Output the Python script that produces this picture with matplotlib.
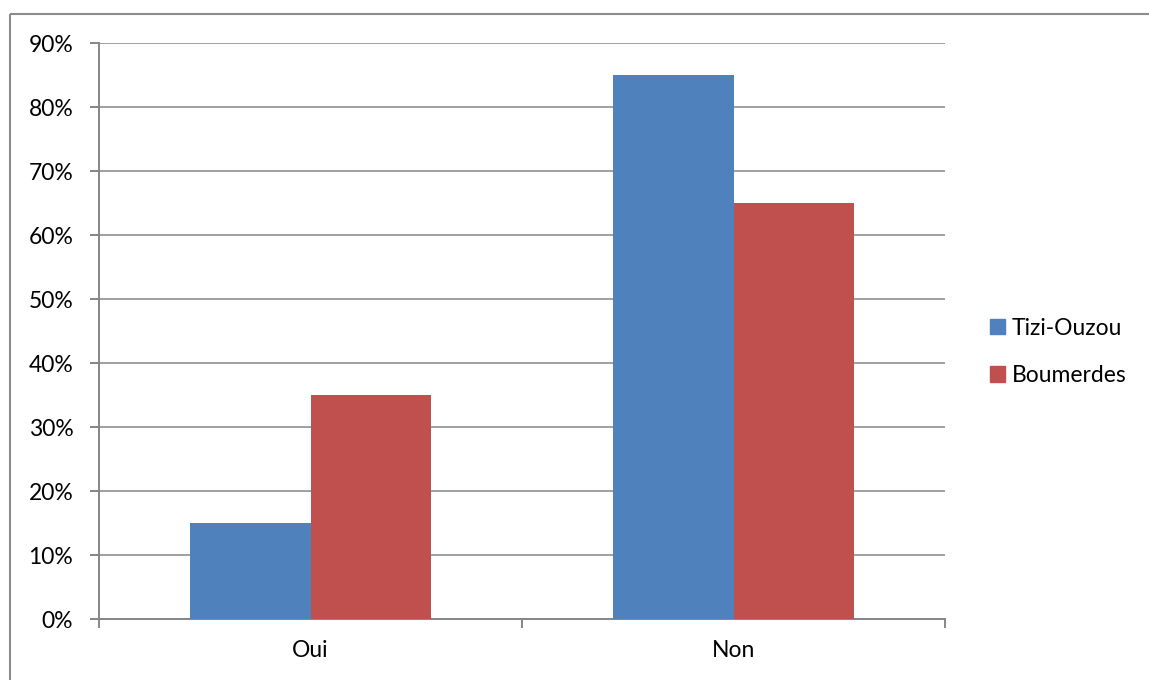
import matplotlib.pyplot as plt
import numpy as np
from matplotlib.lines import Line2D
from matplotlib.patches import Patch

plt.rcParams['font.family'] = ['Lato', 'DejaVu Sans']

categories = ['Oui', 'Non']
series = ['Tizi-Ouzou', 'Boumerdes']
tizi = [15, 85]
boumerdes = [35, 65]
yticks = [0, 10, 20, 30, 40, 50, 60, 70, 80, 90]

colors = ['#4F81BD', '#C0504D']
gridColor = '#868686'
fontSize = 16.5

W, H = 1149, 680
fig = plt.figure(figsize=(W/100, H/100), dpi=100)
ax = fig.add_axes([99/W, 1 - 619/H, (945-99)/W, (619-43)/H])

x = np.arange(len(categories))
barWidth = 0.286
ax.bar(x - barWidth, tizi, width=barWidth, align='edge', color=colors[0], zorder=3)
ax.bar(x, boumerdes, width=barWidth, align='edge', color=colors[1], zorder=3)

ax.set_xlim(-0.5, 1.5)
ax.set_ylim(0, 90)
ax.set_yticks(yticks)
ax.set_yticklabels([f'{t}%' for t in yticks], fontsize=fontSize)
ax.set_xticks([-0.5, 0.5, 1.5], minor=False)
ax.set_xticklabels([])
ax.set_xticks(x, minor=True)
ax.set_xticklabels(categories, minor=True, fontsize=fontSize)
ax.tick_params(axis='x', which='minor', length=0, pad=15)
ax.tick_params(axis='x', which='major', length=6.5, color=gridColor, width=1.4)
ax.tick_params(axis='y', length=6.5, color=gridColor, width=1.4, pad=12)

ax.grid(axis='y', color=gridColor, linewidth=1.1, zorder=0)
for side in ['top', 'right']:
    ax.spines[side].set_visible(False)
for side in ['left', 'bottom']:
    ax.spines[side].set_color(gridColor)
    ax.spines[side].set_linewidth(1.4)

handles = [Patch(color=c) for c in colors]
fig.legend(handles, series, loc='center left', bbox_to_anchor=(990/W, 1 - 352/H),
           frameon=False, fontsize=fontSize, handlelength=0.65, handleheight=0.65,
           handletextpad=0.3, labelspacing=1.15, borderpad=0, borderaxespad=0)

# outer frame (left and top edges only)
fig.add_artist(Line2D([10/W, 10/W], [-0.01, 1 - 14/H], color='#8c8c8c', linewidth=1.5,
                      solid_capstyle='butt'))
fig.add_artist(Line2D([10/W, 1.01], [1 - 14/H, 1 - 14/H], color='#8c8c8c', linewidth=1.5,
                      solid_capstyle='butt'))

fig.savefig('out.png', dpi=100)
